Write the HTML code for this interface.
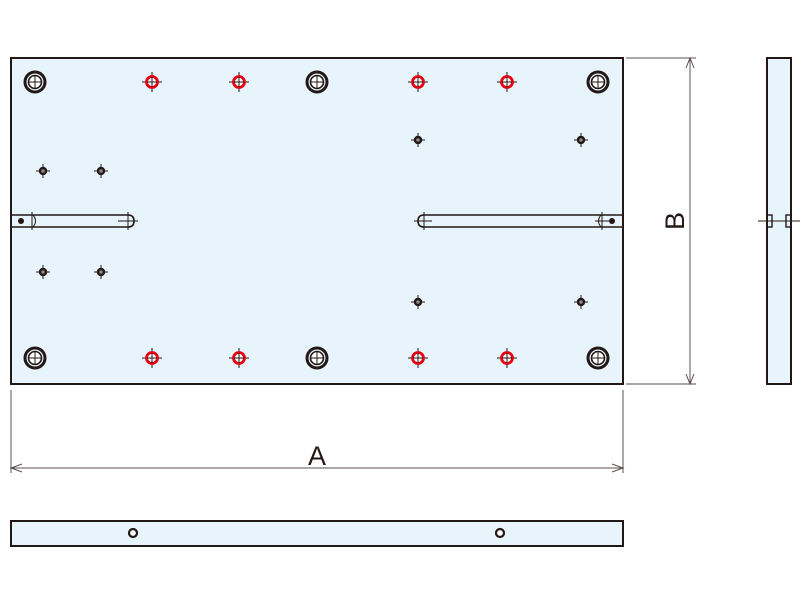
<!DOCTYPE html>
<html><head><meta charset="utf-8"><style>html,body{margin:0;padding:0;background:#fff}svg{display:block}</style></head>
<body>
<svg width="800" height="600" viewBox="0 0 800 600" xmlns="http://www.w3.org/2000/svg">
<defs>
<g id="big"><circle r="10" fill="none" stroke="#231815" stroke-width="3"/><circle r="6.5" fill="#fff" stroke="#231815" stroke-width="1.6"/><path d="M-6 0H6M0 -6V6" stroke="#231815" stroke-width="1"/></g>
<g id="red"><path d="M-10 0H10M0 -10V10" stroke="#231815" stroke-width="1"/><circle r="5.5" fill="#fff" stroke="#e60012" stroke-width="2.8"/><path d="M-5 0H5M0 -5V5" stroke="#231815" stroke-width="1"/></g>
<g id="sm"><path d="M-7 0H7M0 -7V7" stroke="#231815" stroke-width="1"/><circle r="4.2" fill="#231815"/><circle r="1.8" fill="#888"/></g>
</defs>
<rect x="11" y="58" width="612" height="326" fill="#e8f4fc" stroke="#231815" stroke-width="2"/>
<use href="#big" x="35" y="82"/><use href="#big" x="317" y="82"/><use href="#big" x="598" y="82"/>
<use href="#big" x="35" y="358"/><use href="#big" x="317" y="358"/><use href="#big" x="598" y="358"/>
<use href="#red" x="152" y="82"/><use href="#red" x="239" y="82"/><use href="#red" x="418" y="82"/><use href="#red" x="507" y="82"/>
<use href="#red" x="152" y="358"/><use href="#red" x="239" y="358"/><use href="#red" x="418" y="358"/><use href="#red" x="507" y="358"/>
<use href="#sm" x="43" y="171"/><use href="#sm" x="101" y="171"/><use href="#sm" x="43" y="272"/><use href="#sm" x="101" y="272"/>
<use href="#sm" x="418" y="140"/><use href="#sm" x="581" y="140"/><use href="#sm" x="418" y="302"/><use href="#sm" x="581" y="302"/>
<g fill="none" stroke="#231815" stroke-width="1.6">
<path d="M11 215H128Q134 215 134 221Q134 227 128 227H11"/>
<path d="M623 215H424Q418 215 418 221Q418 227 424 227H623"/>
<path d="M32 212V230M128 212V230M118 221H138M424 212V230M414 221H432M602 212V230M595 221H612" stroke-width="1"/>
<path d="M33 215Q38 221 33 227M601 215Q596 221 601 227" stroke-width="1"/>
</g>
<circle cx="21" cy="221" r="3" fill="#231815"/><circle cx="612" cy="221" r="3" fill="#231815"/>
<rect x="767" y="58" width="24" height="326" fill="#e8f4fc" stroke="#231815" stroke-width="2"/>
<path d="M758 221H800" stroke="#231815" stroke-width="1"/>
<rect x="767" y="215" width="5" height="12" fill="none" stroke="#231815" stroke-width="1.4"/>
<rect x="786" y="215" width="5" height="12" fill="none" stroke="#231815" stroke-width="1.4"/>
<g stroke="#5a5050" stroke-width="1" fill="none">
<path d="M626 58H696M626 384H696M690 58V384"/>
<path d="M686 68L690 58L694 68M686 374L690 384L694 374"/>
<path d="M11 390V473M623 390V473M11 468H623"/>
<path d="M22 464L11 468L22 472M612 464L623 468L612 472"/>
</g>
<text x="317" y="465" font-family="Liberation Sans, sans-serif" font-size="27" text-anchor="middle" fill="#231815">A</text>
<text transform="translate(684 221) rotate(-90)" font-family="Liberation Sans, sans-serif" font-size="27" text-anchor="middle" fill="#231815">B</text>
<rect x="11" y="521" width="612" height="25" fill="#e8f4fc" stroke="#231815" stroke-width="2"/>
<circle cx="133" cy="533" r="4" fill="#fff" stroke="#231815" stroke-width="2.2"/>
<circle cx="500" cy="533" r="4" fill="#fff" stroke="#231815" stroke-width="2.2"/>
</svg>
</body></html>
